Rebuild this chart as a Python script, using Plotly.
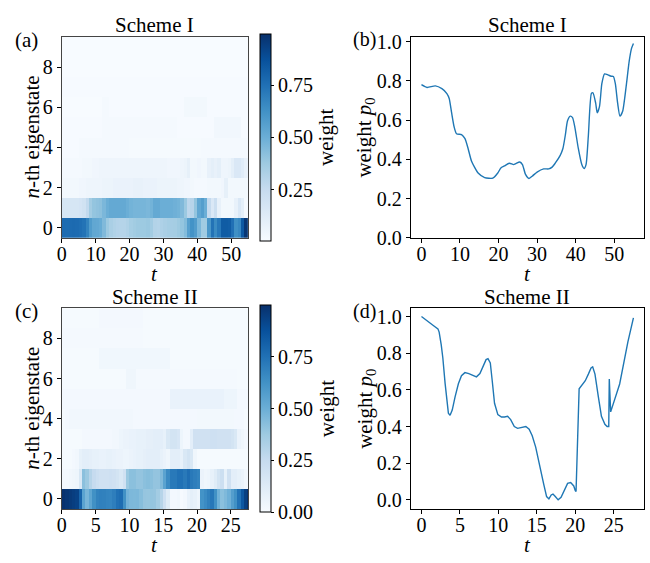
import numpy as np
import plotly.graph_objects as go

# ---------------- data ----------------
states = [0, 1, 2, 3, 4, 5, 6, 7, 8, 9]

# Scheme I heatmap: 55 time cells of width 1 (t = 0 ... 55)
heatI_t_edges = np.arange(0, 56, 1)
heatI_r0 = [0.77, 0.766, 0.77, 0.774, 0.77, 0.76, 0.74, 0.68, 0.58, 0.53,
            0.525, 0.51, 0.45, 0.38, 0.34, 0.32, 0.307, 0.304, 0.304, 0.32,
            0.35, 0.365, 0.375, 0.378, 0.378, 0.385, 0.36, 0.31, 0.305, 0.325,
            0.34, 0.35, 0.352, 0.355, 0.375, 0.40, 0.44, 0.56, 0.62, 0.58,
            0.46, 0.37, 0.37, 0.60, 0.74, 0.65, 0.72, 0.83, 0.83, 0.823,
            0.75, 0.63, 0.66, 0.84, 0.97]
heatI_r1 = [0.17, 0.17, 0.17, 0.17, 0.17, 0.18, 0.2,
            0.26, 0.36, 0.40,
            0.41, 0.42, 0.46, 0.5, 0.52, 0.52, 0.52, 0.52, 0.52,
            0.5, 0.48, 0.47, 0.47, 0.47, 0.47, 0.46, 0.48, 0.52,
            0.52, 0.5, 0.5, 0.5, 0.5, 0.49, 0.48, 0.45,
            0.38, 0.28, 0.30, 0.40,
            0.53, 0.57, 0.5,
            0.25, 0.15, 0.22, 0.08,
            0.03, 0.03, 0.03, 0.03, 0.08, 0.15, 0.1, 0.02]
heatI_r2 = [0.03, 0.03, 0.03, 0.03, 0.03, 0.04, 0.04,
            0.05, 0.05, 0.05, 0.05, 0.05, 0.06, 0.06, 0.06,
            0.07, 0.07, 0.07, 0.07, 0.07, 0.07, 0.08, 0.08, 0.08, 0.07, 0.07, 0.07, 0.07,
            0.06, 0.06, 0.06, 0.06, 0.06, 0.06, 0.05, 0.05,
            0.04, 0.04, 0.03, 0.02, 0.02, 0.02, 0.02, 0.03,
            0.03, 0.03, 0.03, 0.04, 0.09, 0.03, 0.03, 0.03, 0.03, 0.03, 0.03]
heatI_r3 = [0.02, 0.02, 0.02, 0.02, 0.02, 0.02, 0.03, 0.03, 0.03,
            0.04, 0.04, 0.05, 0.05, 0.05, 0.05,
            0.05, 0.05, 0.05, 0.05, 0.05, 0.05, 0.05, 0.05, 0.05, 0.05, 0.05, 0.05, 0.05, 0.05, 0.05, 0.05,
            0.04, 0.04, 0.04, 0.04, 0.05, 0.06,
            0.09,
            0.03, 0.03, 0.04, 0.03, 0.03,
            0.08, 0.1, 0.08, 0.1,
            0.05, 0.05, 0.06,
            0.1, 0.15, 0.15, 0.12, 0.08]
heatI_r4 = [0.01, 0.01, 0.01, 0.01, 0.01,
            0.02, 0.02, 0.02, 0.02, 0.02, 0.02, 0.02, 0.02, 0.02, 0.02, 0.02, 0.02, 0.02, 0.02, 0.02,
            0.015, 0.015, 0.015, 0.015, 0.015, 0.015, 0.015, 0.015, 0.015, 0.015, 0.015,
            0.015, 0.015, 0.015, 0.015, 0.015, 0.015, 0.015, 0.015, 0.015, 0.015,
            0.02, 0.02, 0.02, 0.02, 0.02, 0.02, 0.02, 0.02, 0.02, 0.02, 0.02, 0.02, 0.02, 0.02]
heatI_r5 = [0.01, 0.01, 0.01, 0.01, 0.01, 0.01, 0.01, 0.01, 0.01, 0.01, 0.01, 0.01,
            0.02, 0.02, 0.02, 0.02, 0.02, 0.02, 0.02, 0.02, 0.02, 0.02, 0.02,
            0.02, 0.02, 0.02, 0.02, 0.02, 0.02, 0.02, 0.02, 0.02, 0.02, 0.02,
            0.01, 0.01, 0.01, 0.01, 0.01, 0.01, 0.01, 0.01, 0.01, 0.01, 0.01,
            0.035, 0.035, 0.035, 0.035, 0.035, 0.035, 0.035, 0.035,
            0.01, 0.01]
heatI_r6 = [0.006, 0.006, 0.006, 0.006, 0.006, 0.006, 0.006, 0.006, 0.006, 0.006, 0.006, 0.006,
            0.02, 0.02,
            0.01, 0.01, 0.01, 0.01, 0.01, 0.01, 0.01, 0.01, 0.01, 0.01, 0.01,
            0.01, 0.01, 0.01, 0.01, 0.01, 0.01, 0.01, 0.01, 0.01, 0.01, 0.01,
            0.03, 0.03, 0.03, 0.03, 0.03, 0.03, 0.03,
            0.01, 0.01, 0.01, 0.01, 0.01, 0.01, 0.01, 0.01, 0.01, 0.01, 0.01, 0.01]
heatI_r7 = [0.008, 0.008, 0.008, 0.008, 0.008, 0.008, 0.008, 0.008, 0.008, 0.008,
            0.008, 0.008, 0.008, 0.008, 0.008, 0.008, 0.008, 0.008, 0.008, 0.008,
            0.008, 0.008, 0.008, 0.008, 0.008, 0.008, 0.008, 0.008, 0.008, 0.008,
            0.008, 0.008, 0.008, 0.008, 0.008, 0.008, 0.008, 0.008, 0.008, 0.008,
            0.008, 0.008, 0.008, 0.008, 0.008, 0.008, 0.008, 0.008, 0.008, 0.008,
            0.008, 0.008, 0.008, 0.008, 0.008]
heatI_r8 = [0.006, 0.006, 0.006, 0.006, 0.006, 0.006, 0.006, 0.006, 0.006, 0.006,
            0.006, 0.006, 0.006, 0.006, 0.006, 0.006, 0.006, 0.006, 0.006, 0.006,
            0.006, 0.006, 0.006, 0.006, 0.006, 0.006, 0.006, 0.006, 0.006, 0.006,
            0.006, 0.006, 0.006, 0.006, 0.006, 0.006, 0.006, 0.006, 0.006, 0.006,
            0.006, 0.006, 0.006, 0.006, 0.006, 0.006, 0.006, 0.006, 0.006, 0.006,
            0.006, 0.006, 0.006, 0.006, 0.006]
heatI_r9 = [0.005, 0.005, 0.005, 0.005, 0.005, 0.005, 0.005, 0.005, 0.005, 0.005,
            0.005, 0.005, 0.005, 0.005, 0.005, 0.005, 0.005, 0.005, 0.005, 0.005,
            0.005, 0.005, 0.005, 0.005, 0.005, 0.005, 0.005, 0.005, 0.005, 0.005,
            0.005, 0.005, 0.005, 0.005, 0.005, 0.005, 0.005, 0.005, 0.005, 0.005,
            0.005, 0.005, 0.005, 0.005, 0.005, 0.005, 0.005, 0.005, 0.005, 0.005,
            0.005, 0.005, 0.005, 0.005, 0.005]

# Scheme II heatmap: 56 time cells of width 0.5 (t = 0 ... 28)
heatII_t_edges = np.arange(0, 28.5, 0.5)
heatII_r0 = [0.99, 0.975, 0.96, 0.945, 0.93, 0.8, 0.55, 0.47, 0.54, 0.63,
             0.68, 0.694, 0.688, 0.677, 0.672, 0.70, 0.75, 0.765, 0.63, 0.48,
             0.455, 0.452, 0.455, 0.43, 0.395, 0.392, 0.398, 0.395, 0.36, 0.30,
             0.21, 0.12, 0.02, 0.02, 0.028, 0.005, 0.02, 0.07, 0.093, 0.08,
             0.05, 0.62, 0.65, 0.69, 0.725, 0.63, 0.49, 0.42, 0.45, 0.49,
             0.57, 0.63, 0.74, 0.85, 0.94, 0.99]
heatII_r1 = [0.02, 0.02, 0.03, 0.04, 0.05,
             0.15, 0.42, 0.38,
             0.3, 0.25, 0.22, 0.2, 0.2, 0.2, 0.21, 0.2, 0.18, 0.15,
             0.2, 0.38,
             0.42, 0.42, 0.40, 0.40, 0.42, 0.43, 0.42, 0.40, 0.40, 0.45,
             0.55,
             0.65, 0.72, 0.72, 0.75, 0.75, 0.72, 0.76, 0.72, 0.70, 0.68,
             0.06, 0.04, 0.05, 0.08, 0.12, 0.18, 0.22, 0.08, 0.2, 0.1,
             0.1, 0.08, 0.06, 0.03, 0.02]
heatII_r2 = [0.01, 0.01, 0.01, 0.02, 0.03,
             0.08, 0.1, 0.1, 0.09, 0.08, 0.08, 0.07, 0.07, 0.08, 0.08, 0.07, 0.06, 0.06,
             0.05, 0.05, 0.06, 0.07, 0.08, 0.08, 0.09, 0.1, 0.1, 0.1, 0.1, 0.08,
             0.06, 0.04, 0.1, 0.1, 0.1, 0.08,
             0.15, 0.18, 0.15,
             0.04, 0.01, 0.01, 0.01, 0.01, 0.01, 0.01, 0.01, 0.01, 0.01, 0.01, 0.01,
             0.01, 0.01, 0.01, 0.01, 0.01]
heatII_r3 = [0.01, 0.01, 0.01, 0.01, 0.01, 0.01, 0.02, 0.02, 0.02, 0.02, 0.02, 0.02,
             0.02, 0.02, 0.02, 0.03, 0.03,
             0.05, 0.06, 0.06, 0.07, 0.07, 0.08, 0.08, 0.08, 0.09, 0.09, 0.1, 0.1, 0.1, 0.08, 0.15,
             0.18, 0.18, 0.16, 0.05,
             0.02, 0.02,
             0.1, 0.2, 0.2, 0.2, 0.2, 0.2, 0.21, 0.21, 0.2, 0.2, 0.2, 0.2, 0.18, 0.15,
             0.06, 0.04, 0.02, 0.02]
heatII_r4 = [0.01, 0.02, 0.03, 0.03, 0.03, 0.03, 0.03, 0.03, 0.03, 0.03,
             0.03, 0.03, 0.03, 0.03, 0.03, 0.03, 0.03, 0.03, 0.03, 0.03,
             0.03, 0.02, 0.02, 0.02, 0.02, 0.02, 0.02, 0.02, 0.02, 0.02,
             0.02, 0.02, 0.02, 0.02, 0.02, 0.02, 0.02, 0.02, 0.02, 0.02,
             0.025, 0.025, 0.025, 0.025, 0.025, 0.025, 0.025, 0.025, 0.025, 0.025,
             0.025, 0.02, 0.02, 0.02, 0.01, 0.01]
heatII_r5 = [0.02, 0.02, 0.02, 0.02, 0.02, 0.02, 0.02, 0.02, 0.02, 0.02,
             0.02, 0.02, 0.02, 0.02, 0.02, 0.02, 0.02, 0.02, 0.02, 0.02,
             0.02, 0.02, 0.02, 0.02, 0.02, 0.02, 0.02, 0.02, 0.02, 0.02, 0.02, 0.02,
             0.07, 0.07, 0.07, 0.07, 0.07, 0.07, 0.07, 0.07,
             0.07, 0.07, 0.07, 0.07, 0.07, 0.07, 0.07, 0.07,
             0.05, 0.05, 0.05, 0.05,
             0.02, 0.02, 0.02, 0.02]
heatII_r6 = [0.01, 0.01, 0.01, 0.01, 0.01, 0.01, 0.01, 0.01, 0.01, 0.01,
             0.01, 0.01, 0.01, 0.01, 0.01, 0.01, 0.01, 0.01, 0.01,
             0.04, 0.04, 0.04,
             0.015, 0.015, 0.015, 0.015, 0.015, 0.015, 0.015, 0.015, 0.015, 0.015,
             0.015, 0.015, 0.015, 0.015, 0.015, 0.015, 0.015, 0.015, 0.015, 0.015,
             0.015, 0.015, 0.015, 0.015, 0.015, 0.015, 0.015, 0.015, 0.015, 0.015,
             0.01, 0.01, 0.01, 0.01]
heatII_r7 = [0.01, 0.01, 0.01, 0.01, 0.01, 0.01, 0.01, 0.01, 0.01, 0.01, 0.01,
             0.035, 0.035, 0.035, 0.035, 0.035, 0.035, 0.035, 0.035, 0.035, 0.035,
             0.035, 0.035, 0.035, 0.035, 0.035, 0.035, 0.035, 0.035, 0.035, 0.035, 0.035,
             0.01, 0.01, 0.01, 0.01, 0.01, 0.01, 0.01, 0.01, 0.01, 0.01, 0.01, 0.01,
             0.01, 0.01, 0.01, 0.01, 0.01, 0.01, 0.01, 0.01, 0.01, 0.01, 0.01, 0.01]
heatII_r8 = [0.015, 0.015, 0.015, 0.015, 0.015, 0.015, 0.015, 0.015, 0.015, 0.015,
             0.015, 0.015, 0.015, 0.015, 0.015, 0.015, 0.015, 0.015, 0.015, 0.015,
             0.015, 0.015, 0.015, 0.015,
             0.01, 0.01, 0.01, 0.01, 0.01, 0.01, 0.01, 0.01, 0.01, 0.01, 0.01, 0.01,
             0.01, 0.01, 0.01, 0.01, 0.01, 0.01, 0.01, 0.01, 0.01, 0.01, 0.01, 0.01,
             0.01, 0.01, 0.01, 0.01, 0.01, 0.01, 0.01, 0.01]
heatII_r9 = [0.01, 0.01, 0.01, 0.01, 0.01, 0.01, 0.01, 0.01, 0.01, 0.01, 0.01,
             0.02, 0.02, 0.02, 0.02, 0.02, 0.02, 0.02, 0.02, 0.02, 0.02, 0.02, 0.02, 0.02,
             0.008, 0.008, 0.008, 0.008, 0.008, 0.008, 0.008, 0.008, 0.008, 0.008,
             0.008, 0.008, 0.008, 0.008, 0.008, 0.008, 0.008, 0.008, 0.008, 0.008,
             0.008, 0.008, 0.008, 0.008, 0.008, 0.008, 0.008, 0.008, 0.008, 0.008,
             0.008, 0.008]

# Ground-state weight p0 (line plots)
tI = [0, 1.45, 3.6, 5.3, 6.6, 7.2, 7.8, 8.5, 9.1, 10.4,
      11.3, 12.1, 13, 14.7, 16.4, 18.5, 19.8, 20.6, 21.5, 22.8,
      23.9, 24.5, 25.5, 26.2, 27, 27.9, 28.8, 30, 31.7, 33,
      33.9, 34.7, 36, 36.7, 37.3, 37.9, 38.6, 39.2, 39.8, 40.7,
      41.6, 42.2, 42.7, 43.3, 44.1, 44.5, 45.2, 45.6, 46.2, 46.8,
      47.5, 48.4, 49.2, 49.8, 50.3, 50.9, 51.5, 52.2, 53.1, 53.9,
      54.5, 55]
pI = [0.78, 0.766, 0.774, 0.76, 0.735, 0.71, 0.64, 0.563, 0.53, 0.526,
      0.505, 0.455, 0.39, 0.33, 0.307, 0.304, 0.33, 0.356, 0.366, 0.38,
      0.373, 0.378, 0.386, 0.373, 0.323, 0.302, 0.315, 0.335, 0.351, 0.351,
      0.36, 0.38, 0.42, 0.455, 0.52, 0.596, 0.62, 0.612, 0.563, 0.455,
      0.373, 0.353, 0.373, 0.52, 0.736, 0.739, 0.686, 0.637, 0.67, 0.785,
      0.835, 0.83, 0.823, 0.822, 0.785, 0.686, 0.62, 0.645, 0.77, 0.90,
      0.965, 0.99]

tII = [0, 0.94, 1.58, 2.14, 2.3, 2.57, 2.78, 3.08, 3.3, 3.5,
       3.72, 4.0, 4.37, 4.8, 5.2, 5.65, 6.16, 6.7, 7.15, 7.6,
       8.0, 8.4, 8.65, 8.95, 9.2, 9.5, 9.93, 10.4, 10.8, 11.2,
       11.6, 12.07, 12.5, 13.1, 13.57, 14.0, 14.4, 14.85, 15.5, 15.9,
       16.27, 16.57, 16.87, 17.1, 17.4, 17.77, 18.15, 18.6, 19.0, 19.4,
       19.8, 20.0, 20.1, 20.5, 20.85, 21.3, 21.7, 22.05, 22.26, 22.56,
       23.0, 23.4, 23.85, 24.14, 24.35, 24.42, 24.6, 25.77, 26.84, 27.56]
pII = [1.0, 0.968, 0.95, 0.933, 0.915, 0.845, 0.774, 0.633, 0.527, 0.473,
       0.461, 0.49, 0.562, 0.633, 0.677, 0.694, 0.689, 0.677, 0.671, 0.689,
       0.73, 0.765, 0.77, 0.747, 0.65, 0.527, 0.465, 0.452, 0.452, 0.456,
       0.438, 0.40, 0.39, 0.398, 0.40, 0.385, 0.35, 0.288, 0.173, 0.085,
       0.018, 0.005, 0.027, 0.032, 0.018, 0.0, 0.014, 0.058, 0.09, 0.094,
       0.076, 0.05, 0.046, 0.606, 0.624, 0.65, 0.686, 0.72, 0.726, 0.686,
       0.562, 0.456, 0.412, 0.40, 0.40, 0.659, 0.48, 0.632, 0.862, 0.993]

xticksI = [0, 10, 20, 30, 40, 50]
xticksII = [0, 5, 10, 15, 20, 25]
yticks_states = [0, 2, 4, 6, 8]
yticks_p = [0.0, 0.2, 0.4, 0.6, 0.8, 1.0]
cbar_ticksI = [0.25, 0.50, 0.75]
cbar_ticksII = [0.00, 0.25, 0.50, 0.75]

# ---------------- styling ----------------
W, H = 650, 563
FONT = "Liberation Serif"
FS = 20
TFS = 21
BLUES = [[0.0, "#f7fbff"], [0.125, "#deebf7"], [0.25, "#c6dbef"], [0.375, "#9ecae1"],
         [0.5, "#6baed6"], [0.625, "#4292c6"], [0.75, "#2171b5"], [0.875, "#08519c"],
         [1.0, "#08306b"]]
LINEC = "#1f77b4"


def px(x):
    return x / W


def py(y):
    return 1 - y / H


# plot-area pixel boxes (left, right, top, bottom)
boxA = (57.3, 245, 32, 239)
boxB = (409, 644, 32, 239)
boxC = (57.3, 245, 311.7, 518.7)
boxD = (409, 644, 311.7, 518.7)


def cbar(box, ticks):
    l, r, t, b = box
    return dict(
        x=px(257), xanchor="left", xref="paper",
        y=py((t + b) / 2), yanchor="middle",
        len=b - t, lenmode="pixels", thickness=11, thicknessmode="pixels",
        outlinewidth=1, outlinecolor="black",
        ticks="outside", ticklen=3, tickwidth=1, tickcolor="black",
        tickvals=ticks, ticktext=["%.2f" % v for v in ticks],
        tickfont=dict(family=FONT, size=FS, color="black"),
        xpad=0, ypad=0,
    )


fig = go.Figure()
fig.add_trace(go.Heatmap(
    z=[heatI_r0, heatI_r1, heatI_r2, heatI_r3, heatI_r4,
       heatI_r5, heatI_r6, heatI_r7, heatI_r8, heatI_r9],
    x=heatI_t_edges, y=states, colorscale=BLUES, zmin=0.004, zmax=0.996,
    xaxis="x", yaxis="y", colorbar=cbar(boxA, cbar_ticksI)))
fig.add_trace(go.Scatter(
    x=tI, y=pI, mode="lines", xaxis="x2", yaxis="y2", showlegend=False,
    line=dict(color=LINEC, width=1.4, shape="spline", smoothing=0.6)))
fig.add_trace(go.Heatmap(
    z=[heatII_r0, heatII_r1, heatII_r2, heatII_r3, heatII_r4,
       heatII_r5, heatII_r6, heatII_r7, heatII_r8, heatII_r9],
    x=heatII_t_edges, y=states, colorscale=BLUES, zmin=0.0, zmax=0.999,
    xaxis="x3", yaxis="y3", colorbar=cbar(boxC, cbar_ticksII)))
fig.add_trace(go.Scatter(
    x=tII, y=pII, mode="lines", xaxis="x4", yaxis="y4", showlegend=False,
    line=dict(color=LINEC, width=1.4)))


def axis(box, which, rng, tickvals, anchor, ticktext=None, linecolor="black"):
    l, r, t, b = box
    d = dict(
        range=rng, tickvals=tickvals, anchor=anchor,
        ticks="outside", ticklen=4, tickwidth=1, tickcolor="black",
        showline=True, linecolor=linecolor, linewidth=1, mirror=True,
        showgrid=False, zeroline=False,
        tickfont=dict(family=FONT, size=FS, color="black"),
    )
    if ticktext is not None:
        d["ticktext"] = ticktext
    if which == "x":
        d["domain"] = [px(l), px(r)]
        d["ticklabelstandoff"] = -6
    else:
        d["domain"] = [py(b), py(t)]
    return d


ptext = ["%.1f" % v for v in yticks_p]
fig.update_layout(
    width=W, height=H, margin=dict(l=0, r=0, t=0, b=0),
    paper_bgcolor="white", plot_bgcolor="white", showlegend=False,
    font=dict(family=FONT, size=FS, color="black"),
    xaxis=axis(boxA, "x", [0, 55], xticksI, "y", linecolor="#444"),
    yaxis=axis(boxA, "y", [-0.5, 9.5], yticks_states, "x", linecolor="#444"),
    xaxis2=axis(boxB, "x", [-2.75, 57.75], xticksI, "y2"),
    yaxis2=axis(boxB, "y", [0, 1.023], yticks_p, "x2", ptext),
    xaxis3=axis(boxC, "x", [0, 27.56], xticksII, "y3", linecolor="#444"),
    yaxis3=axis(boxC, "y", [-0.5, 9.5], yticks_states, "x3", linecolor="#444"),
    xaxis4=axis(boxD, "x", [-1.38, 28.94], xticksII, "y4"),
    yaxis4=axis(boxD, "y", [-0.05, 1.045], yticks_p, "x4", ptext),
)

ann = []


def text(x, y, s, angle=0, xanchor="center", size=FS):
    ann.append(dict(x=px(x), y=py(y), xref="paper", yref="paper", text=s,
                    showarrow=False, textangle=angle, xanchor=xanchor,
                    yanchor="middle", font=dict(family=FONT, size=size, color="black")))


for box, title, lab, ylab in [(boxA, "Scheme I", "(a)", "<i>n</i>-th eigenstate"),
                              (boxB, "Scheme I", "(b)", "weight <i>p</i><sub>0</sub>"),
                              (boxC, "Scheme II", "(c)", "<i>n</i>-th eigenstate"),
                              (boxD, "Scheme II", "(d)", "weight <i>p</i><sub>0</sub>")]:
    l, r, t, b = box
    text((l + r) / 2, t - 12, title, size=TFS)
    text((l + r) / 2, b + 37, "<i>t</i>", size=TFS)
    if l < 100:
        text(8, t + 3, lab, xanchor="left", size=TFS)
        text(l - 30, (t + b) / 2, ylab, angle=-90, size=TFS)
    else:
        text(349, t + 3, lab, xanchor="left", size=FS)
        text(l - 46, (t + b) / 2, ylab, angle=-90, size=TFS)

# colorbar labels
for box in (boxA, boxC):
    l, r, t, b = box
    text(324, (t + b) / 2, "weight", angle=-90, size=TFS)

fig.update_layout(annotations=ann)
fig.write_html("out.html", config={"displayModeBar": False},
               post_script="document.body.style.margin='0';document.body.style.padding='0';")
